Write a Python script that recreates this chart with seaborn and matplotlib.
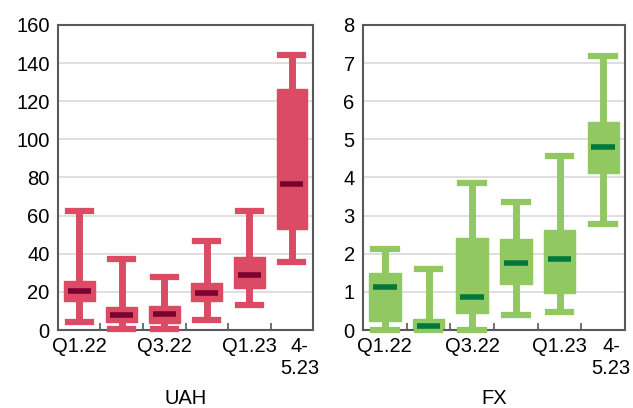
import seaborn as sns
import matplotlib.pyplot as plt
import matplotlib.transforms as mtransforms
import pandas as pd
import numpy as np

plt.rcParams['font.family'] = ['Liberation Sans', 'DejaVu Sans']
plt.rcParams['font.size'] = 14.5

periods = ['Q1.22', 'Q2.22', 'Q3.22', 'Q4.22', 'Q1.23', '4-5.23']
tick_labels = ['Q1.22', '', 'Q3.22', '', 'Q1.23', '4-\n5.23']

# min, q1, median, q3, max for each period
uah_low = [4.2, 0.3, 0.4, 5.2, 13.1, 35.8]
uah_q1 = [15.2, 4.2, 3.5, 15.2, 22.0, 53.1]
uah_med = [20.5, 7.7, 8.2, 19.2, 28.7, 76.4]
uah_q3 = [25.7, 11.9, 12.6, 24.5, 38.1, 126.4]
uah_high = [62.6, 37.4, 28.0, 46.9, 62.2, 144.2]

fx_low = [0.0, 0.0, 0.0, 0.39, 0.48, 2.78]
fx_q1 = [0.24, 0.0, 0.45, 1.21, 0.98, 4.13]
fx_med = [1.12, 0.10, 0.86, 1.75, 1.85, 4.79]
fx_q3 = [1.49, 0.29, 2.42, 2.40, 2.62, 5.45]
fx_high = [2.12, 1.59, 3.85, 3.37, 4.56, 7.19]


def make_df(low, q1, med, q3, high):
    '''five points per period, so the quartiles land exactly on q1/med/q3'''
    rows = []
    for i, p in enumerate(periods):
        for v in (low[i], q1[i], med[i], q3[i], high[i]):
            rows.append({'period': p, 'value': v})
    return pd.DataFrame(rows)


def draw_panel(ax, df, fill, dark, ymax, step, label):
    sns.boxplot(data=df, x='period', y='value', ax=ax, whis=(0, 100), width=0.72,
                color=fill, linecolor=fill, linewidth=1, saturation=1, fliersize=0,
                whiskerprops={'linewidth': 5, 'color': fill},
                capprops={'linewidth': 4.5, 'color': fill},
                medianprops={'linewidth': 4, 'color': dark})
    # narrower medians and caps than the box
    for line in ax.lines:
        x = np.asarray(line.get_xdata(), dtype=float)
        y = np.asarray(line.get_ydata(), dtype=float)
        line.set_clip_on(False)
        if len(x) == 2 and y[0] == y[1] and x[0] != x[1]:
            c = x.mean()
            half = 0.27
            line.set_xdata([c - half, c + half])
            line.set_zorder(3)
    ax.set_ylim(0, ymax)
    ax.set_yticks(np.arange(0, ymax + step / 2, step))
    ax.set_xlim(-0.5, 5.5)
    ax.set_xticks(range(6))
    ax.set_xticklabels(tick_labels)
    ax.set_xticks(np.arange(0.5, 5.5, 1), minor=True)
    ax.tick_params(axis='x', which='major', length=0, pad=5)
    ax.tick_params(axis='x', which='minor', direction='in', length=5, width=1.2, color='#595959')
    ax.tick_params(axis='y', length=0, pad=6)
    ax.yaxis.grid(True, color='#D9D9D9', linewidth=1.2)
    ax.set_axisbelow(True)
    for s in ax.spines.values():
        s.set_color('#595959')
        s.set_linewidth(1.5)
    # last label sits a bit right of its slot
    last = ax.get_xticklabels()[-1]
    last.set_transform(last.get_transform() +
                       mtransforms.ScaledTranslation(8 / 100, 0, ax.figure.dpi_scale_trans))
    ax.set_xlabel(label, labelpad=8)
    ax.set_ylabel('')


fig = plt.figure(figsize=(6.33, 4.08), dpi=100)
ax1 = fig.add_axes([0.0916, 0.191, 0.403, 0.748])
ax2 = fig.add_axes([0.5735, 0.191, 0.414, 0.748])

draw_panel(ax1, make_df(uah_low, uah_q1, uah_med, uah_q3, uah_high),
           '#DC4B64', '#7A0030', 160, 20, 'UAH')
draw_panel(ax2, make_df(fx_low, fx_q1, fx_med, fx_q3, fx_high),
           '#92C862', '#00783C', 8, 1, 'FX')

fig.savefig('out.png', dpi=100)
